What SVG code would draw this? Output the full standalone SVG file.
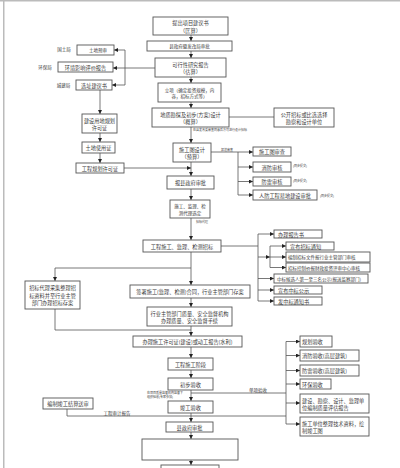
<svg xmlns="http://www.w3.org/2000/svg" width="400" height="468" viewBox="0 0 400 468">
<defs>
<marker id="ah" markerUnits="userSpaceOnUse" markerWidth="4" markerHeight="4" refX="4" refY="2" orient="auto"><path d="M0,0 L4,2 L0,4 z" fill="#222"/></marker>
<style>
rect{fill:#fff;stroke:#555;stroke-width:0.9}
text{font-family:"Noto Sans CJK SC","Noto Sans",sans-serif;fill:#3a3a3a;font-size:5.2px;text-anchor:middle;dominant-baseline:central}
text.l{text-anchor:start}
text.s{font-size:3px}
text.m{font-size:4.5px}
#conn path{fill:none;stroke:#555;stroke-width:0.8}
#conn path.a{marker-end:url(#ah)}
</style>
</defs>
<rect x="-1" y="-1" width="402" height="2.5" style="fill:#bbb;stroke:none"/>
<rect x="3" y="0" width="1.5" height="468" style="fill:#bbb;stroke:none"/>

<g id="conn">
<path class="a" d="M191,35 V41"/>
<path class="a" d="M191,51 V58"/>
<path class="a" d="M191,77 V83"/>
<path class="a" d="M191,102 V108"/>
<path class="a" d="M191,127 V143"/>
<path class="a" d="M191,162 V176"/>
<path class="a" d="M191,189 V200"/>
<path class="a" d="M191,218 V240"/>
<path class="a" d="M191,252 V285"/>
<path class="a" d="M191,298 V307"/>
<path class="a" d="M191,326 V336"/>
<path class="a" d="M191,347 V358"/>
<path class="a" d="M191,370 V378"/>
<path class="a" d="M191,390 V401"/>
<path class="a" d="M191,413 V422"/>
<path class="a" d="M191,432 V439"/>
<path class="a" d="M191,460 V465"/>
<path class="a" d="M155,68 H113"/>
<path d="M125,50 V85"/>
<path class="a" d="M125,50 H114"/>
<path class="a" d="M125,85 H112"/>
<path class="a" d="M100,90 V114"/>
<path class="a" d="M100,133 V142"/>
<path class="a" d="M100,153 V163"/>
<path class="a" d="M124,168 H191"/>
<path d="M229,117 H274"/>
<path d="M211,152 H238 M238,152 V195"/>
<path class="a" d="M238,152 H253"/>
<path class="a" d="M238,167 H253"/>
<path class="a" d="M238,181.5 H253"/>
<path class="a" d="M238,195 H253"/>
<path d="M221,246 H258 M258,234 V301"/>
<path class="a" d="M258,234 H274"/>
<path class="a" d="M258,257 H270"/>
<path d="M270,246 V267.5"/>
<path class="a" d="M270,246 H286"/>
<path class="a" d="M270,257 H286"/>
<path class="a" d="M270,267.5 H286"/>
<path class="a" d="M258,278.5 H274"/>
<path class="a" d="M258,290 H274"/>
<path class="a" d="M258,301 H274"/>
<path class="a" d="M191,268 H55 V281"/>
<path d="M55,309 V330 H191"/>
<path d="M191,393 H286 M286,341.5 V424"/>
<path class="a" d="M286,341.5 H300"/>
<path class="a" d="M286,355.5 H300"/>
<path class="a" d="M286,370.5 H300"/>
<path class="a" d="M286,384 H300"/>
<path class="a" d="M286,403 H300"/>
<path class="a" d="M286,424 H300"/>
<path d="M67,409 V416 H286"/>
</g>

<g id="n1"><rect x="153" y="17" width="75" height="18"/><text x="190.5" y="22.5">提出项目建议书</text><text x="190.5" y="30">（匡算）</text></g>
<g id="n2"><rect x="147" y="41" width="85" height="10"/><text class="m" x="189.5" y="46">县政府暨发改局审批</text></g>
<g id="n3"><rect x="155" y="58" width="71" height="19"/><text x="190.5" y="64">可行性研究报告</text><text x="190.5" y="71.5">（估算）</text></g>
<g id="n4"><rect x="158" y="83" width="63" height="19"/><text class="m" x="189.5" y="89.5">立项（确定投资规模，内</text><text class="m" x="189.5" y="96">容，招标方式等）</text></g>
<g id="n5"><rect x="152" y="108" width="77" height="19"/><text x="190.5" y="114">地质勘探及初步(方案)设计</text><text x="190.5" y="121.5">（概算）</text></g>
<g id="n6"><rect x="274" y="108" width="60" height="19"/><text x="304" y="114">公开招标或比选选择</text><text x="304" y="121.5">勘察和设计单位</text></g>
<g id="n7"><rect x="173" y="143" width="38" height="19"/><text x="192" y="149">施工图设计</text><text x="192" y="156.5">（预算）</text></g>
<g id="n8"><rect x="253" y="147" width="38" height="9"/><text x="272" y="151.5">施工图审查</text></g>
<g id="n9"><rect x="253" y="162" width="38" height="10"/><text x="272" y="167">消防审核</text></g>
<g id="n10"><rect x="253" y="177" width="38" height="9"/><text x="272" y="181.5">防雷审核</text></g>
<g id="n11"><rect x="253" y="190" width="64" height="10"/><text x="285" y="195">人防工程易地建设审批</text></g>
<g id="n12"><rect x="167" y="176" width="47" height="13"/><text x="190.5" y="182.5">报县政府审批</text></g>
<g id="n13"><rect x="170" y="200" width="40" height="18"/><text class="m" x="190" y="205.5">施工、监理、检</text><text class="m" x="190" y="212.5">测代理选定</text></g>
<g id="n14"><rect x="143" y="240" width="78" height="12"/><text x="182" y="246">工程施工、监理、检测招标</text></g>
<g id="n15"><rect x="274" y="230" width="48" height="8"/><text class="l" x="278" y="234">办理报告书</text></g>
<g id="n16"><rect x="286" y="242" width="48" height="8"/><text class="l" x="290" y="246">宣布招标通知</text></g>
<g id="n17"><rect x="286" y="252" width="84" height="10"/><text class="l m" x="288" y="257">编制招标文件报行业主管部门审核</text></g>
<g id="n18"><rect x="286" y="263" width="84" height="9"/><text class="l m" x="288" y="267.5">招标控制价报财政投资评审中心审核</text></g>
<g id="n19"><rect x="274" y="274" width="94" height="9"/><text class="l m" x="277" y="278.5">中标候选人第一至三名公示(报送监察部门)</text></g>
<g id="n20"><rect x="274" y="286" width="48" height="8"/><text class="l" x="278" y="290">宣布中标公示</text></g>
<g id="n21"><rect x="274" y="297" width="48" height="8"/><text class="l" x="278" y="301">发中标通知书</text></g>
<g id="n22"><rect x="25" y="281" width="55" height="28"/><text x="52.5" y="287.5">招标代理采集整理招</text><text x="52.5" y="295">标资料并至行业主管</text><text x="52.5" y="302.5">部门办理招标存案</text></g>
<g id="n23"><rect x="130" y="285" width="120" height="13"/><text x="190" y="291.5">签署施工(监理、检测)合同，行业主管部门存案</text></g>
<g id="n24"><rect x="147" y="307" width="85" height="19"/><text x="189.5" y="313">行业主管部门质量、安全监督机构</text><text x="189.5" y="320.5">办理质量、安全监督手续</text></g>
<g id="n25"><rect x="133" y="336" width="109" height="11"/><text x="187.5" y="341.5">办理施工许可证(建设)或动工报告(水利)</text></g>
<g id="n26"><rect x="168" y="358" width="45" height="12"/><text x="190.5" y="364">工程施工阶段</text></g>
<g id="n27"><rect x="168" y="378" width="45" height="12"/><text x="190.5" y="384">初步验收</text></g>
<g id="n28"><rect x="168" y="401" width="45" height="12"/><text x="190.5" y="407">竣工验收</text></g>
<g id="n29"><rect x="166" y="422" width="47" height="10"/><text x="189.5" y="427">县政府审批</text></g>
<g id="n30"><rect x="142" y="439" width="96" height="21"/></g>
<g id="n31"><rect x="161" y="465" width="58" height="12"/></g>
<g id="n32"><rect x="300" y="336" width="32" height="11"/><text class="l" x="302" y="341.5">规划验收</text></g>
<g id="n33"><rect x="300" y="350" width="59" height="11"/><text class="l" x="302" y="355.5">消防验收(高层建筑)</text></g>
<g id="n34"><rect x="300" y="365" width="59" height="11"/><text class="l" x="302" y="370.5">防雷验收(高层建筑)</text></g>
<g id="n35"><rect x="300" y="379" width="31" height="10"/><text class="l" x="302" y="384">环保验收</text></g>
<g id="n36"><rect x="300" y="394" width="69" height="19"/><text class="l" x="302" y="400">建设、勘察、设计、监理单</text><text class="l" x="302" y="407.5">位编制质量评估报告</text></g>
<g id="n37"><rect x="300" y="417" width="69" height="19"/><text class="l" x="302" y="423">施工单位整理技术资料，绘</text><text class="l" x="302" y="430.5">制竣工图</text></g>
<g id="n38"><rect x="43" y="398" width="50" height="11"/><text x="68" y="403.5">编制竣工结算送审</text></g>
<g id="n39"><rect x="77" y="45" width="37" height="10"/><text class="m" x="98" y="50">土地预审</text></g>
<g id="n40"><rect x="58" y="62" width="55" height="10"/><text x="85.5" y="67">环境影响评价报告</text></g>
<g id="n41"><rect x="76" y="80" width="36" height="10"/><text x="94" y="85">选址建议书</text></g>
<g id="n42"><rect x="82" y="114" width="35" height="19"/><text x="99.5" y="120">建设用地规划</text><text x="99.5" y="127.5">许可证</text></g>
<g id="n43"><rect x="82" y="142" width="33" height="11"/><text x="98.5" y="147.5">土地使用证</text></g>
<g id="n44"><rect x="76" y="163" width="48" height="10"/><text x="100" y="168">工程规划许可证</text></g>

<g id="labels">
<text class="m" x="64" y="48.5">国土局</text>
<text class="m" x="45" y="67">环保局</text>
<text class="m" x="63.5" y="85">城建局</text>
<text class="s l" x="193" y="130">在县发改委审查同意后方可进行设计招标</text>
<text class="s" x="227" y="150">报送审查</text>
<text class="s l" x="293" y="166">(同步提交)</text>
<text class="s l" x="293" y="181">(同步提交)</text>
<text class="s l" x="320" y="196">(同步提交)</text>
<text class="s l" x="196" y="222">招标代理</text>
<text class="s l" x="147" y="392.5">在项目质量监督机构监督下</text>
<text class="s l" x="147" y="397">组织验收(专家参加)</text>
<text class="m" x="258" y="389.5">单项验收</text>
<text class="m" x="117" y="413">工程审计报告</text>
</g>
</svg>
